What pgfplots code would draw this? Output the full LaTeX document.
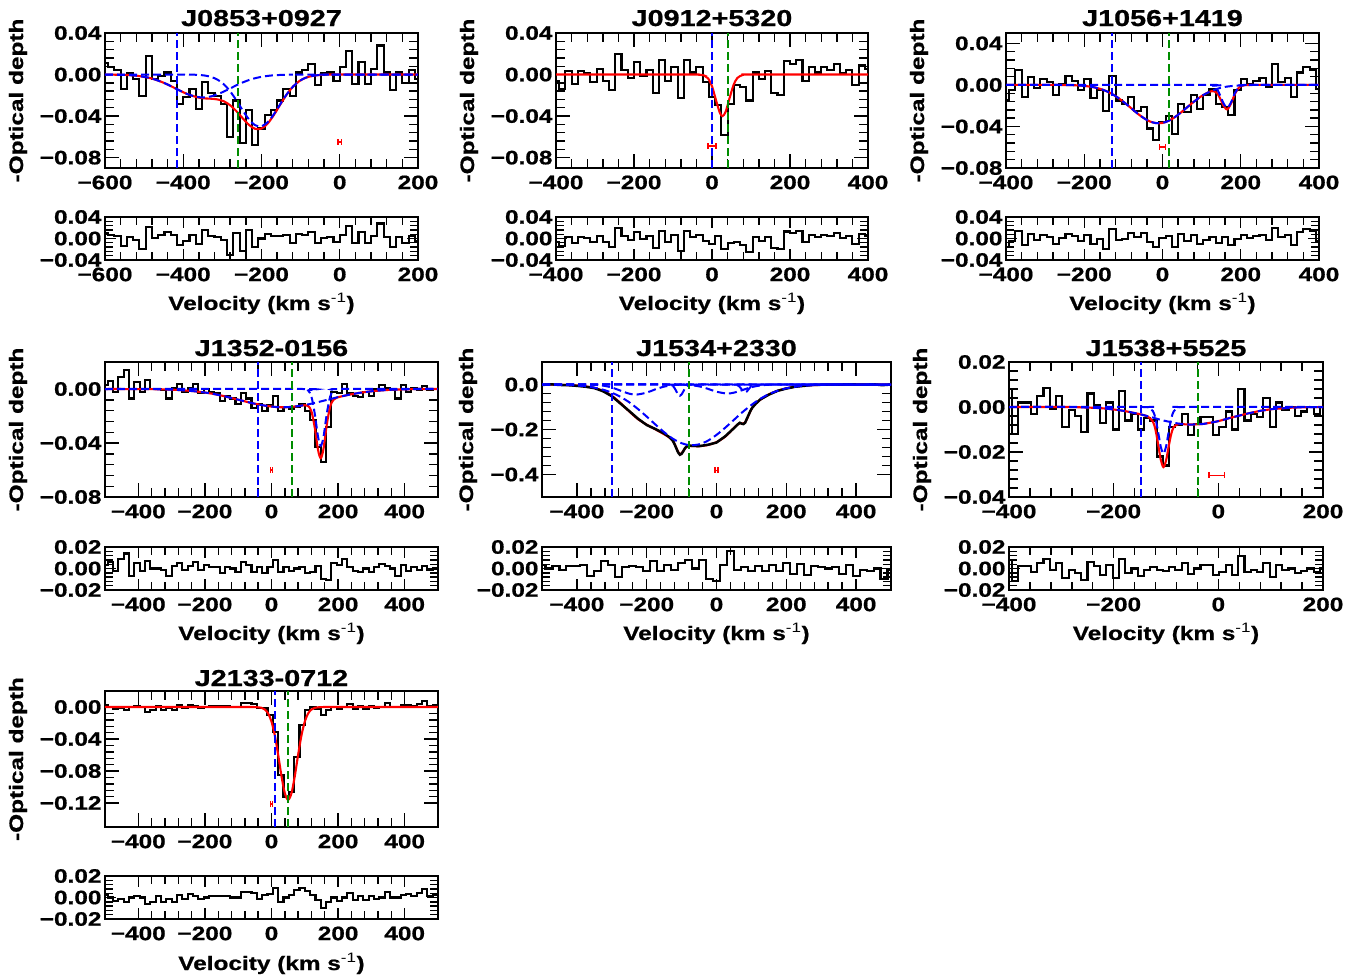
\documentclass[border=0pt]{standalone}
\usepackage{fontspec}
\setmainfont{Liberation Sans}[FakeStretch=1.25, BoldFeatures={FakeBold=0.8}]
\usepackage{pgfplots}
\pgfplotsset{compat=1.18}

\definecolor{vgreen}{RGB}{0,140,0}
\newcommand{\tfont}{\bfseries\fontsize{19.5}{19.5}\selectfont}
\newcommand{\titlefont}{\bfseries\fontsize{23}{23}\selectfont}
\newcommand{\labfont}{\bfseries\fontsize{19.5}{19.5}\selectfont}
\newcommand{\vel}{Velocity (km s{\mdseries\textsuperscript{-1}})}

\pgfplotsset{
  panel/.style={
    scale only axis, anchor=north west,
    axis line style={line width=1.7pt},
    every tick/.style={black, line width=1.4pt},
    major tick length=14pt, minor tick length=9pt,
    tick align=inside, scaled ticks=false,
    ticklabel style={font=\tfont},
    xticklabel style={yshift=-4pt},
    minor x tick num=4, minor y tick num=4,
  },
  res/.style={major tick length=11pt, minor tick length=8pt},
  dat/.style={black, line width=2.1pt, const plot mark mid, mark=none},
  fit/.style={red, line width=2.1pt, smooth, mark=none},
  comp/.style={blue, line width=2pt, dash pattern=on 8pt off 4pt, smooth, mark=none},
  vb/.style={blue, line width=2pt, dash pattern=on 8pt off 4pt, mark=none},
  vg/.style={vgreen, line width=2pt, dash pattern=on 8pt off 4pt, mark=none},
  eb/.style={red, line width=1.5pt, mark=|, mark size=3pt, mark options={solid, red, line width=1.5pt}},
}

\begin{document}
\begin{tikzpicture}
\useasboundingbox (0pt,0pt) rectangle (1369pt,-980pt);

% ---------------- J0853+0927 ----------------
\begin{axis}[panel, at={(105pt,-33pt)}, width=313pt, height=135pt,
  xmin=-600, xmax=200, ymin=-0.09, ymax=0.04,
  xtick={-600,-400,-200,0,200}, xticklabels={−600,−400,−200,0,200},
  ytick={0.04,0,-0.04,-0.08}, yticklabels={0.04,0.00,−0.04,−0.08}]
\addplot[dat] coordinates {(-600,0.011) (-584,0.007) (-568,0.004) (-552,-0.014) (-536,0.001) (-520,-0.004) (-504,-0.021) (-488,0.018) (-472,-0.004) (-456,-0.001) (-440,0.002) (-424,-0.006) (-408,-0.028) (-392,-0.022) (-376,-0.014) (-360,-0.033) (-344,-0.007) (-328,-0.018) (-312,-0.021) (-296,-0.028) (-280,-0.060) (-264,-0.025) (-248,-0.066) (-232,-0.034) (-216,-0.068) (-200,-0.052) (-184,-0.039) (-168,-0.034) (-152,-0.025) (-136,-0.014) (-120,-0.021) (-104,0.002) (-88,0.004) (-72,0.010) (-56,-0.010) (-40,0.001) (-24,0.002) (-8,-0.006) (8,0.007) (24,0.023) (40,-0.009) (56,0.012) (72,-0.009) (88,0.005) (104,0.028) (120,0.002) (136,-0.015) (152,0.002) (168,-0.008) (184,0.004) (200,-0.004)};
\addplot[fit] coordinates {(-600,0) (-584,-0.0001) (-568,-0.0002) (-552,-0.0003) (-536,-0.0006) (-520,-0.0011) (-504,-0.002) (-488,-0.0031) (-472,-0.0048) (-456,-0.007) (-440,-0.0096) (-424,-0.0126) (-408,-0.0156) (-392,-0.0184) (-376,-0.0206) (-360,-0.0222) (-344,-0.023) (-328,-0.0233) (-312,-0.024) (-296,-0.0258) (-280,-0.0296) (-264,-0.0353) (-248,-0.0421) (-232,-0.0485) (-216,-0.0523) (-200,-0.052) (-184,-0.0471) (-168,-0.0387) (-152,-0.0289) (-136,-0.0195) (-120,-0.0119) (-104,-0.0065) (-88,-0.0032) (-72,-0.0015) (-56,-0.0006) (-40,-0.0002) (-24,0) (200,0)};
\addplot[comp] coordinates {(-600,0) (-584,-0.0001) (-568,-0.0002) (-552,-0.0003) (-536,-0.0006) (-520,-0.0011) (-504,-0.002) (-488,-0.0031) (-472,-0.0048) (-456,-0.007) (-440,-0.0096) (-424,-0.0126) (-408,-0.0156) (-392,-0.0184) (-376,-0.0205) (-360,-0.0218) (-344,-0.022) (-328,-0.0209) (-312,-0.019) (-296,-0.0163) (-280,-0.0134) (-264,-0.0103) (-248,-0.0076) (-232,-0.0053) (-216,-0.0035) (-200,-0.0022) (-184,-0.0013) (-168,-0.0007) (-152,-0.0004) (-136,-0.0002) (-120,-0.0001) (-104,0) (200,0)};
\addplot[comp] coordinates {(-600,0) (-440,0) (-392,0) (-376,-0.0001) (-360,-0.0004) (-344,-0.001) (-328,-0.0024) (-312,-0.005) (-296,-0.0095) (-280,-0.0162) (-264,-0.025) (-248,-0.0345) (-232,-0.0432) (-216,-0.0488) (-200,-0.0498) (-184,-0.0458) (-168,-0.038) (-152,-0.0285) (-136,-0.0193) (-120,-0.0118) (-104,-0.0065) (-88,-0.0032) (-72,-0.0015) (-56,-0.0006) (-40,-0.0002) (-24,0) (200,0)};
\addplot[vb] coordinates {(-415,-0.09) (-415,0.04)};
\addplot[vg] coordinates {(-260,-0.09) (-260,0.04)};
\addplot[eb] coordinates {(-4,-0.065) (4,-0.065)};
\end{axis}
\begin{axis}[panel, res, at={(105pt,-217pt)}, width=313pt, height=43pt,
  xmin=-600, xmax=200, ymin=-0.04, ymax=0.04,
  xtick={-600,-400,-200,0,200}, xticklabels={−600,−400,−200,0,200},
  ytick={0.04,0,-0.04}, yticklabels={0.04,0.00,−0.04}]
\addplot[dat] coordinates {(-600,0.011) (-584,0.007) (-568,0.004) (-552,-0.014) (-536,0.002) (-520,-0.003) (-504,-0.019) (-488,0.021) (-472,0.001) (-456,0.006) (-440,0.012) (-424,0.007) (-408,-0.012) (-392,-0.004) (-376,0.007) (-360,-0.011) (-344,0.016) (-328,0.005) (-312,0.003) (-296,-0.002) (-280,-0.030) (-264,0.010) (-248,-0.024) (-232,0.015) (-216,-0.016) (-200,0.000) (-184,0.008) (-168,0.005) (-152,0.004) (-136,0.006) (-120,-0.009) (-104,0.009) (-88,0.007) (-72,0.012) (-56,-0.009) (-40,0.001) (-24,0.002) (-8,-0.006) (8,0.007) (24,0.023) (40,-0.009) (56,0.012) (72,-0.009) (88,0.005) (104,0.028) (120,0.002) (136,-0.015) (152,0.002) (168,-0.008) (184,0.004) (200,-0.004)};
\end{axis}

% ---------------- J0912+5320 ----------------
\begin{axis}[panel, at={(556pt,-33pt)}, width=312pt, height=135pt,
  xmin=-400, xmax=400, ymin=-0.09, ymax=0.04,
  xtick={-400,-200,0,200,400}, xticklabels={−400,−200,0,200,400},
  ytick={0.04,0,-0.04,-0.08}, yticklabels={0.04,0.00,−0.04,−0.08}]
\addplot[dat] coordinates {(-400,-0.006) (-384,-0.014) (-368,0.003) (-352,-0.009) (-336,0.003) (-320,0.001) (-304,-0.007) (-288,0.005) (-272,-0.006) (-256,-0.015) (-240,0.020) (-224,0.004) (-208,-0.003) (-192,0.012) (-176,-0.001) (-160,0.004) (-144,-0.018) (-128,0.014) (-112,-0.006) (-96,0.007) (-80,-0.023) (-64,0.014) (-48,0.002) (-32,0.007) (-16,-0.007) (0,-0.022) (16,-0.029) (32,-0.058) (48,-0.028) (64,-0.010) (80,-0.012) (96,-0.025) (112,0.002) (128,-0.004) (144,0.003) (160,-0.018) (176,-0.020) (192,0.013) (208,0.010) (224,0.014) (240,-0.006) (256,0.007) (272,0.002) (288,0.007) (304,0.004) (320,0.010) (336,0.001) (352,0.004) (368,-0.010) (384,0.009) (400,0.005)};
\addplot[fit] coordinates {(-400,0) (-60,0) (-40,0) (-20,-0.0009) (-10,-0.0037) (0,-0.0113) (10,-0.0243) (20,-0.0367) (27,-0.040) (35,-0.0358) (45,-0.0228) (55,-0.0103) (65,-0.0033) (80,-0.0003) (100,0) (400,0)};
\addplot[vb] coordinates {(0,-0.09) (0,0.04)};
\addplot[vg] coordinates {(42,-0.09) (42,0.04)};
\addplot[eb] coordinates {(-10,-0.069) (10,-0.069)};
\end{axis}
\begin{axis}[panel, res, at={(556pt,-217pt)}, width=312pt, height=43pt,
  xmin=-400, xmax=400, ymin=-0.04, ymax=0.04,
  xtick={-400,-200,0,200,400}, xticklabels={−400,−200,0,200,400},
  ytick={0.04,0,-0.04}, yticklabels={0.04,0.00,−0.04}]
\addplot[dat] coordinates {(-400,-0.006) (-384,-0.014) (-368,0.003) (-352,-0.009) (-336,0.003) (-320,0.001) (-304,-0.007) (-288,0.005) (-272,-0.006) (-256,-0.015) (-240,0.020) (-224,0.004) (-208,-0.003) (-192,0.012) (-176,-0.001) (-160,0.004) (-144,-0.018) (-128,0.014) (-112,-0.006) (-96,0.007) (-80,-0.023) (-64,0.014) (-48,0.002) (-32,0.007) (-16,-0.005) (0,-0.011) (16,0.004) (32,-0.020) (48,-0.009) (64,-0.006) (80,-0.012) (96,-0.025) (112,0.002) (128,-0.004) (144,0.003) (160,-0.018) (176,-0.020) (192,0.013) (208,0.010) (224,0.014) (240,-0.006) (256,0.007) (272,0.002) (288,0.007) (304,0.004) (320,0.010) (336,0.001) (352,0.004) (368,-0.010) (384,0.009) (400,0.005)};
\end{axis}

% ---------------- J1056+1419 ----------------
\begin{axis}[panel, at={(1006pt,-33pt)}, width=313pt, height=135pt,
  xmin=-400, xmax=400, ymin=-0.08, ymax=0.05,
  xtick={-400,-200,0,200,400}, xticklabels={−400,−200,0,200,400},
  ytick={0.04,0,-0.04,-0.08}, yticklabels={0.04,0.00,−0.04,−0.08}]
\addplot[dat] coordinates {(-400,-0.015) (-384,-0.005) (-368,0.014) (-352,-0.012) (-336,0.008) (-320,-0.003) (-304,0.006) (-288,0.003) (-272,-0.010) (-256,0.001) (-240,0.009) (-224,0.004) (-208,-0.005) (-192,0.006) (-176,-0.013) (-160,-0.005) (-144,-0.025) (-128,0.009) (-112,-0.015) (-96,-0.018) (-80,-0.012) (-64,-0.025) (-48,-0.021) (-32,-0.042) (-16,-0.053) (0,-0.036) (16,-0.030) (32,-0.047) (48,-0.018) (64,-0.026) (80,-0.010) (96,-0.023) (112,-0.010) (128,-0.004) (144,-0.018) (160,-0.021) (176,-0.029) (192,-0.005) (208,0.006) (224,0.001) (240,0.004) (256,0.007) (272,-0.002) (288,0.020) (304,0.003) (320,0.007) (336,-0.012) (352,0.012) (368,0.017) (384,0.014) (400,-0.004)};
\addplot[fit] coordinates {(-400,0) (-272,0) (-256,-0.0001) (-240,-0.0002) (-224,-0.0003) (-208,-0.0007) (-192,-0.0013) (-176,-0.0022) (-160,-0.0037) (-144,-0.0059) (-128,-0.0089) (-112,-0.0128) (-96,-0.0174) (-80,-0.0224) (-64,-0.0275) (-48,-0.0319) (-32,-0.0352) (-16,-0.0368) (0,-0.0366) (16,-0.0345) (32,-0.0309) (48,-0.0263) (64,-0.0212) (80,-0.0162) (96,-0.0117) (112,-0.0081) (120,-0.0066) (130,-0.006) (140,-0.0082) (150,-0.0151) (155,-0.0193) (165,-0.0236) (175,-0.0181) (185,-0.0087) (195,-0.0027) (200,-0.0014) (210,-0.0003) (240,0) (400,0)};
\addplot[comp] coordinates {(-400,0) (-272,0) (-256,-0.0001) (-240,-0.0002) (-224,-0.0003) (-208,-0.0007) (-192,-0.0013) (-176,-0.0022) (-160,-0.0037) (-144,-0.0059) (-128,-0.0089) (-112,-0.0128) (-96,-0.0174) (-80,-0.0224) (-64,-0.0275) (-48,-0.0319) (-32,-0.0352) (-16,-0.0368) (0,-0.0366) (16,-0.0345) (32,-0.0309) (48,-0.0263) (64,-0.0212) (80,-0.0162) (96,-0.0117) (112,-0.0081) (128,-0.0053) (144,-0.0033) (160,-0.0019) (176,-0.0011) (192,-0.0006) (208,-0.0003) (240,0) (400,0)};
\addplot[comp] coordinates {(-400,0) (115,0) (130,-0.001) (140,-0.0045) (150,-0.0124) (155,-0.017) (165,-0.022) (175,-0.017) (185,-0.0079) (195,-0.0022) (200,-0.001) (215,0) (400,0)};
\addplot[vb] coordinates {(-128,-0.08) (-128,0.05)};
\addplot[vg] coordinates {(16,-0.08) (16,0.05)};
\addplot[eb] coordinates {(-8,-0.060) (8,-0.060)};
\end{axis}
\begin{axis}[panel, res, at={(1006pt,-217pt)}, width=313pt, height=43pt,
  xmin=-400, xmax=400, ymin=-0.04, ymax=0.04,
  xtick={-400,-200,0,200,400}, xticklabels={−400,−200,0,200,400},
  ytick={0.04,0,-0.04}, yticklabels={0.04,0.00,−0.04}]
\addplot[dat] coordinates {(-400,-0.015) (-384,-0.005) (-368,0.014) (-352,-0.012) (-336,0.008) (-320,-0.003) (-304,0.006) (-288,0.003) (-272,-0.010) (-256,0.001) (-240,0.009) (-224,0.004) (-208,-0.004) (-192,0.007) (-176,-0.011) (-160,-0.001) (-144,-0.019) (-128,0.018) (-112,-0.002) (-96,-0.001) (-80,0.010) (-64,0.003) (-48,0.011) (-32,-0.007) (-16,-0.016) (0,0.001) (16,0.005) (32,-0.016) (48,0.008) (64,-0.005) (80,0.006) (96,-0.011) (112,-0.002) (128,0.002) (144,-0.008) (160,0.002) (176,-0.012) (192,-0.001) (208,0.007) (224,0.001) (240,0.004) (256,0.007) (272,-0.002) (288,0.020) (304,0.003) (320,0.007) (336,-0.012) (352,0.012) (368,0.017) (384,0.014) (400,-0.004)};
\end{axis}

% ---------------- J1352-0156 ----------------
\begin{axis}[panel, at={(105pt,-362pt)}, width=333pt, height=135pt,
  xmin=-500, xmax=500, ymin=-0.08, ymax=0.02,
  xtick={-400,-200,0,200,400}, xticklabels={−400,−200,0,200,400},
  ytick={0,-0.04,-0.08}, yticklabels={0.00,−0.04,−0.08}]
\addplot[dat] coordinates {(-500,0.003) (-484,0.006) (-468,-0.002) (-452,0.009) (-436,0.014) (-420,-0.007) (-404,0.005) (-388,-0.002) (-372,0.007) (-356,0.000) (-340,0.000) (-324,-0.001) (-308,-0.007) (-292,0.001) (-276,0.004) (-260,-0.002) (-244,0.001) (-228,0.004) (-212,-0.003) (-196,0.000) (-180,-0.002) (-164,-0.003) (-148,-0.009) (-132,-0.005) (-116,-0.007) (-100,-0.011) (-84,-0.003) (-68,-0.007) (-52,-0.014) (-36,-0.011) (-20,-0.016) (-4,-0.012) (12,-0.005) (28,-0.016) (44,-0.013) (60,-0.015) (76,-0.013) (92,-0.011) (108,-0.016) (124,-0.023) (140,-0.043) (156,-0.054) (172,-0.028) (188,-0.002) (204,-0.003) (220,0.004) (236,-0.003) (252,-0.005) (268,-0.006) (284,-0.002) (300,-0.005) (316,0.000) (332,0.003) (348,0.001) (364,-0.001) (380,-0.007) (396,0.003) (412,-0.002) (428,0.001) (444,-0.001) (460,0.002) (476,-0.001) (492,0.000) (500,0.000)};
\addplot[fit] coordinates {(-500,0) (-372,-0.0001) (-340,-0.0002) (-308,-0.0004) (-276,-0.0008) (-244,-0.0014) (-212,-0.0022) (-180,-0.0034) (-148,-0.005) (-116,-0.0069) (-84,-0.0089) (-52,-0.0108) (-20,-0.0123) (12,-0.0133) (44,-0.0135) (76,-0.0128) (100,-0.012) (110,-0.0125) (120,-0.0166) (130,-0.0287) (140,-0.0454) (148,-0.0512) (156,-0.0445) (166,-0.0265) (176,-0.0132) (186,-0.008) (196,-0.0064) (220,-0.0049) (236,-0.0041) (268,-0.0027) (300,-0.0017) (332,-0.001) (364,-0.0005) (396,-0.0003) (440,0) (500,0)};
\addplot[comp] coordinates {(-500,0) (-372,-0.0001) (-340,-0.0002) (-308,-0.0004) (-276,-0.0008) (-244,-0.0014) (-212,-0.0022) (-180,-0.0034) (-148,-0.005) (-116,-0.0069) (-84,-0.0089) (-52,-0.0108) (-20,-0.0123) (12,-0.0133) (44,-0.0135) (76,-0.0128) (108,-0.0115) (140,-0.0097) (172,-0.0077) (204,-0.0058) (236,-0.0041) (268,-0.0027) (300,-0.0017) (332,-0.001) (364,-0.0005) (396,-0.0003) (440,0) (500,0)};
\addplot[comp] coordinates {(-500,0) (95,0) (110,-0.0011) (120,-0.0057) (130,-0.0184) (140,-0.0357) (148,-0.042) (156,-0.0357) (166,-0.0184) (176,-0.0057) (186,-0.0011) (201,0) (500,0)};
\addplot[vb] coordinates {(-40,-0.08) (-40,0.02)};
\addplot[vg] coordinates {(63,-0.08) (63,0.02)};
\addplot[eb] coordinates {(-3,-0.060) (3,-0.060)};
\end{axis}
\begin{axis}[panel, res, at={(105pt,-547pt)}, width=333pt, height=43pt,
  xmin=-500, xmax=500, ymin=-0.02, ymax=0.02,
  xtick={-400,-200,0,200,400}, xticklabels={−400,−200,0,200,400},
  ytick={0.02,0,-0.02}, yticklabels={0.02,0.00,−0.02}]
\addplot[dat] coordinates {(-500,0.003) (-484,0.006) (-468,-0.002) (-452,0.009) (-436,0.014) (-420,-0.007) (-404,0.005) (-388,-0.002) (-372,0.007) (-356,0.000) (-340,0.000) (-324,-0.001) (-308,-0.007) (-292,0.002) (-276,0.005) (-260,-0.001) (-244,0.002) (-228,0.006) (-212,-0.001) (-196,0.003) (-180,0.001) (-164,0.001) (-148,-0.004) (-132,0.001) (-116,0.000) (-100,-0.003) (-84,0.006) (-68,0.003) (-52,-0.003) (-36,0.001) (-20,-0.004) (-4,0.001) (12,0.008) (28,-0.003) (44,0.001) (60,-0.002) (76,0.000) (92,0.001) (108,-0.004) (124,-0.003) (140,0.002) (156,-0.010) (172,-0.011) (188,0.005) (204,0.003) (220,0.009) (236,0.001) (252,-0.002) (268,-0.003) (284,0.000) (300,-0.003) (316,0.001) (332,0.004) (348,0.002) (364,0.000) (380,-0.007) (396,0.003) (412,-0.002) (428,0.001) (444,-0.001) (460,0.002) (476,-0.001) (492,0.000) (500,0.000)};
\end{axis}

% ---------------- J1534+2330 ----------------
\begin{axis}[panel, at={(542pt,-362pt)}, width=349pt, height=135pt,
  xmin=-500, xmax=500, ymin=-0.5, ymax=0.1,
  xtick={-400,-200,0,200,400}, xticklabels={−400,−200,0,200,400},
  ytick={0,-0.2,-0.4}, yticklabels={0.0,−0.2,−0.4}]
\addplot[fit] coordinates {(-500,-0.0002) (-475,-0.0005) (-450,-0.0012) (-425,-0.0023) (-400,-0.0044) (-375,-0.0083) (-350,-0.0153) (-325,-0.028) (-300,-0.0499) (-275,-0.0823) (-250,-0.1198) (-225,-0.1539) (-200,-0.1785) (-175,-0.1993) (-150,-0.2213) (-135,-0.2355) (-125,-0.2508) (-120,-0.2642) (-115,-0.282) (-110,-0.2994) (-105,-0.309) (-100,-0.306) (-95,-0.295) (-90,-0.2836) (-85,-0.2763) (-75,-0.2733) (-50,-0.2742) (-25,-0.269) (0,-0.256) (25,-0.2318) (50,-0.1932) (62,-0.1756) (67,-0.1727) (72,-0.1731) (77,-0.1734) (82,-0.1683) (87,-0.1551) (92,-0.1367) (97,-0.1186) (102,-0.1042) (112,-0.0853) (125,-0.0683) (150,-0.0441) (175,-0.0282) (200,-0.017) (225,-0.01) (250,-0.0056) (275,-0.003) (300,-0.0015) (325,-0.0007) (350,-0.0003) (400,0) (500,0)};
\addplot[black, line width=2.5pt, mark=none] coordinates {(-500,-0.002) (-475,0.001) (-450,-0.002) (-425,-0.003) (-400,-0.006) (-375,-0.010) (-350,-0.016) (-325,-0.030) (-300,-0.052) (-275,-0.085) (-250,-0.118) (-225,-0.152) (-200,-0.180) (-175,-0.198) (-150,-0.218) (-135,-0.234) (-125,-0.250) (-120,-0.266) (-115,-0.284) (-110,-0.302) (-105,-0.312) (-100,-0.308) (-95,-0.296) (-90,-0.282) (-85,-0.275) (-75,-0.272) (-50,-0.274) (-25,-0.268) (0,-0.258) (25,-0.230) (50,-0.194) (62,-0.176) (67,-0.170) (72,-0.174) (77,-0.176) (82,-0.170) (87,-0.152) (92,-0.135) (97,-0.118) (102,-0.104) (112,-0.086) (125,-0.067) (150,-0.045) (175,-0.028) (200,-0.018) (225,-0.010) (250,-0.006) (275,-0.002) (300,-0.001) (325,0.000) (350,-0.001) (375,0.001) (400,0.000) (425,-0.001) (450,0.001) (475,-0.003) (500,0.000)};
\addplot[comp] coordinates {(-500,-0.0002) (-475,-0.0005) (-450,-0.0012) (-425,-0.0023) (-400,-0.0044) (-375,-0.008) (-350,-0.014) (-325,-0.0231) (-300,-0.0365) (-275,-0.055) (-250,-0.079) (-225,-0.109) (-200,-0.1425) (-175,-0.178) (-150,-0.212) (-125,-0.241) (-100,-0.261) (-75,-0.27) (-50,-0.266) (-25,-0.25) (0,-0.224) (25,-0.192) (50,-0.157) (75,-0.122) (100,-0.091) (125,-0.064) (150,-0.043) (175,-0.028) (200,-0.017) (225,-0.01) (250,-0.0056) (275,-0.003) (300,-0.0015) (325,-0.0007) (350,-0.0003) (400,0) (500,0)};
\addplot[comp] coordinates {(-500,0) (-400,0) (-375,-0.0003) (-350,-0.0013) (-325,-0.0049) (-300,-0.0134) (-275,-0.0273) (-250,-0.0408) (-230,-0.045) (-200,-0.036) (-175,-0.0213) (-150,-0.0093) (-125,-0.003) (-100,-0.0007) (-75,-0.0001) (-50,0) (500,0)};
\addplot[comp] coordinates {(-500,0) (-140,0) (-135,-0.0006) (-125,-0.0068) (-120,-0.0162) (-115,-0.0303) (-110,-0.0441) (-105,-0.05) (-100,-0.0441) (-95,-0.0303) (-90,-0.0162) (-85,-0.0068) (-75,-0.0006) (-70,0) (500,0)};
\addplot[comp] coordinates {(-500,0) (47,0) (52,-0.0004) (62,-0.0048) (67,-0.0114) (72,-0.0212) (77,-0.0309) (82,-0.035) (87,-0.0309) (92,-0.0212) (97,-0.0114) (102,-0.0048) (112,-0.0004) (117,0) (500,0)};
\addplot[comp] coordinates {(-500,0) (-125,0) (-100,-0.0006) (-75,-0.0026) (-50,-0.0082) (-25,-0.019) (0,-0.032) (30,-0.04) (50,-0.0362) (75,-0.0243) (100,-0.0119) (125,-0.0043) (150,-0.0011) (175,-0.0002) (200,0) (500,0)};
\addplot[vb] coordinates {(-300,-0.5) (-300,0.1)};
\addplot[vg] coordinates {(-79,-0.5) (-79,0.1)};
\addplot[eb] coordinates {(-4,-0.382) (4,-0.382)};
\end{axis}
\begin{axis}[panel, res, at={(542pt,-547pt)}, width=349pt, height=43pt,
  xmin=-500, xmax=500, ymin=-0.02, ymax=0.02,
  xtick={-400,-200,0,200,400}, xticklabels={−400,−200,0,200,400},
  ytick={0.02,0,-0.02}, yticklabels={0.02,0.00,−0.02}]
\addplot[dat] coordinates {(-500,0.003) (-480,0) (-460,0.002) (-440,-0.001) (-420,0.002) (-400,0.002) (-380,0.003) (-360,-0.007) (-340,-0.002) (-320,0.007) (-300,0.003) (-280,-0.008) (-260,0.001) (-240,0.002) (-220,0.001) (-200,-0.002) (-180,0.007) (-160,-0.002) (-140,0.003) (-120,-0.001) (-100,0.005) (-80,0.008) (-60,0) (-40,0.008) (-20,-0.010) (0,-0.012) (20,0.003) (40,0.016) (60,-0.001) (80,0.001) (100,-0.002) (120,0.002) (140,-0.002) (160,0.003) (180,-0.002) (200,0.005) (220,-0.005) (240,0.004) (260,-0.006) (280,0.002) (300,0.001) (320,0) (340,0.001) (360,-0.005) (380,0.003) (400,-0.007) (420,-0.001) (440,-0.002) (460,0) (480,-0.010) (500,-0.001)};
\end{axis}

% ---------------- J1538+5525 ----------------
\begin{axis}[panel, at={(1009pt,-362pt)}, width=314pt, height=135pt,
  xmin=-400, xmax=200, ymin=-0.04, ymax=0.02,
  xtick={-400,-200,0,200}, xticklabels={−400,−200,0,200},
  ytick={0.02,0,-0.02,-0.04}, yticklabels={0.02,0.00,−0.02,−0.04}]
\addplot[dat] coordinates {(-400,0.008) (-388,-0.012) (-376,0.002) (-364,0.002) (-352,-0.003) (-340,0.005) (-328,0.0086) (-316,-0.001) (-304,0.005) (-292,-0.009) (-280,-0.0015) (-268,-0.004) (-256,-0.011) (-244,0.006) (-232,0.001) (-220,-0.007) (-208,0.002) (-196,-0.010) (-184,0.007) (-172,-0.006) (-160,-0.003) (-148,-0.010) (-136,-0.005) (-124,-0.006) (-112,-0.022) (-100,-0.026) (-88,-0.009) (-76,-0.008) (-64,-0.003) (-52,-0.0126) (-40,-0.0074) (-28,-0.0044) (-16,-0.0044) (-4,-0.0126) (8,-0.009) (20,-0.002) (32,-0.010) (44,0.008) (56,-0.006) (68,-0.003) (80,-0.0044) (92,0.004) (104,-0.009) (116,0.002) (128,-0.0015) (140,0.000) (152,-0.004) (164,-0.002) (176,0.000) (188,-0.003) (200,0.000)};
\addplot[fit] coordinates {(-400,0) (-292,0) (-256,-0.0002) (-220,-0.0006) (-184,-0.0016) (-160,-0.0027) (-148,-0.0033) (-135,-0.0042) (-125,-0.0065) (-120,-0.0102) (-115,-0.0166) (-110,-0.0234) (-105,-0.0267) (-100,-0.0239) (-95,-0.0177) (-90,-0.012) (-85,-0.0088) (-75,-0.0075) (-64,-0.0077) (-52,-0.0078) (-40,-0.0077) (-28,-0.0075) (-16,-0.007) (-4,-0.0065) (8,-0.0058) (20,-0.005) (32,-0.0043) (44,-0.0036) (56,-0.0029) (68,-0.0023) (80,-0.0017) (92,-0.0013) (104,-0.0009) (116,-0.0007) (128,-0.0005) (140,-0.0003) (164,-0.0001) (200,0)};
\addplot[comp] coordinates {(-400,0) (-292,0) (-256,-0.0002) (-220,-0.0006) (-184,-0.0016) (-160,-0.0027) (-148,-0.0033) (-135,-0.0041) (-125,-0.0047) (-115,-0.0054) (-105,-0.006) (-95,-0.0065) (-85,-0.007) (-75,-0.0074) (-64,-0.0077) (-52,-0.0078) (-40,-0.0077) (-28,-0.0075) (-16,-0.007) (-4,-0.0065) (8,-0.0058) (20,-0.005) (32,-0.0043) (44,-0.0036) (56,-0.0029) (68,-0.0023) (80,-0.0017) (92,-0.0013) (104,-0.0009) (116,-0.0007) (128,-0.0005) (140,-0.0003) (164,-0.0001) (200,0)};
\addplot[comp] coordinates {(-400,0) (-140,0) (-135,-0.0001) (-125,-0.0018) (-120,-0.0052) (-115,-0.0112) (-110,-0.0177) (-105,-0.0207) (-100,-0.0177) (-95,-0.0112) (-90,-0.0052) (-85,-0.0018) (-75,-0.0001) (-70,0) (200,0)};
\addplot[vb] coordinates {(-148,-0.04) (-148,0.02)};
\addplot[vg] coordinates {(-38,-0.04) (-38,0.02)};
\addplot[eb] coordinates {(-18,-0.0304) (12,-0.0304)};
\end{axis}
\begin{axis}[panel, res, at={(1009pt,-547pt)}, width=314pt, height=43pt,
  xmin=-400, xmax=200, ymin=-0.02, ymax=0.02,
  xtick={-400,-200,0,200}, xticklabels={−400,−200,0,200},
  ytick={0.02,0,-0.02}, yticklabels={0.02,0.00,−0.02}]
\addplot[dat] coordinates {(-400,0.008) (-388,-0.012) (-376,0.002) (-364,0.002) (-352,-0.003) (-340,0.005) (-328,0.0086) (-316,-0.001) (-304,0.005) (-292,-0.009) (-280,-0.001) (-268,-0.004) (-256,-0.011) (-244,0.006) (-232,0.002) (-220,-0.006) (-208,0.003) (-196,-0.009) (-184,0.009) (-172,-0.004) (-160,0.000) (-148,-0.007) (-136,-0.001) (-124,0.001) (-112,-0.001) (-100,-0.002) (-88,0.001) (-76,-0.001) (-64,0.005) (-52,-0.005) (-40,0.000) (-28,0.003) (-16,0.003) (-4,-0.006) (8,-0.003) (20,0.003) (32,-0.006) (44,0.012) (56,-0.003) (68,-0.001) (80,-0.003) (92,0.005) (104,-0.008) (116,0.003) (128,-0.001) (140,0.000) (152,-0.004) (164,-0.002) (176,0.000) (188,-0.003) (200,0.000)};
\end{axis}

% ---------------- J2133-0712 ----------------
\begin{axis}[panel, at={(105pt,-691pt)}, width=333pt, height=136pt,
  xmin=-500, xmax=500, ymin=-0.15, ymax=0.02,
  xtick={-400,-200,0,200,400}, xticklabels={−400,−200,0,200,400},
  ytick={0,-0.04,-0.08,-0.12}, yticklabels={0.00,−0.04,−0.08,−0.12}]
\addplot[dat] coordinates {(-500,0.002) (-484,0) (-468,-0.003) (-452,-0.001) (-436,-0.004) (-420,0) (-404,0.001) (-388,0) (-372,-0.006) (-356,-0.004) (-340,0.001) (-324,-0.004) (-308,-0.001) (-292,-0.004) (-276,0.002) (-260,-0.001) (-244,0.003) (-228,0.001) (-212,-0.001) (-196,0) (-180,0.001) (-164,0.001) (-148,0.001) (-132,0.001) (-116,0) (-100,0) (-84,0.005) (-68,0.005) (-52,0.004) (-36,-0.001) (-20,-0.001) (-4,-0.010) (12,-0.031) (28,-0.085) (44,-0.113) (60,-0.106) (76,-0.063) (92,-0.023) (108,-0.004) (124,0) (140,-0.002) (156,-0.010) (172,-0.004) (188,0) (204,-0.003) (220,0) (236,0.004) (252,-0.002) (268,0.001) (284,-0.002) (300,0.001) (316,-0.001) (332,0) (348,0.005) (364,0) (380,0) (396,0.002) (412,0.003) (428,0.001) (444,0.004) (460,0.008) (476,0.001) (492,0.002) (500,0.002)};
\addplot[fit] coordinates {(-500,0) (-100,0) (-50,-0.0001) (-30,-0.001) (-20,-0.0031) (-10,-0.0081) (0,-0.0182) (10,-0.0355) (20,-0.0596) (30,-0.0863) (40,-0.1077) (50,-0.116) (60,-0.1077) (70,-0.0863) (80,-0.0596) (90,-0.0355) (100,-0.0182) (110,-0.0081) (120,-0.0031) (130,-0.001) (150,-0.0001) (200,0) (500,0)};
\addplot[vb] coordinates {(11,-0.15) (11,0.02)};
\addplot[vg] coordinates {(50,-0.15) (50,0.02)};
\addplot[eb] coordinates {(-3,-0.121) (3,-0.121)};
\end{axis}
\begin{axis}[panel, res, at={(105pt,-876pt)}, width=333pt, height=43pt,
  xmin=-500, xmax=500, ymin=-0.02, ymax=0.02,
  xtick={-400,-200,0,200,400}, xticklabels={−400,−200,0,200,400},
  ytick={0.02,0,-0.02}, yticklabels={0.02,0.00,−0.02}]
\addplot[dat] coordinates {(-500,0.002) (-484,0) (-468,-0.003) (-452,-0.001) (-436,-0.004) (-420,0) (-404,0.001) (-388,0) (-372,-0.006) (-356,-0.004) (-340,0.001) (-324,-0.004) (-308,-0.001) (-292,-0.004) (-276,0.002) (-260,-0.001) (-244,0.003) (-228,0.001) (-212,-0.001) (-196,0) (-180,0.001) (-164,0.001) (-148,0.001) (-132,0.001) (-116,0) (-100,0) (-84,0.005) (-68,0.005) (-52,0.004) (-36,-0.001) (-20,0.002) (-4,0.003) (12,0.009) (28,-0.004) (44,0.000) (60,0.002) (76,0.007) (92,0.009) (108,0.006) (124,0.002) (140,-0.002) (156,-0.010) (172,-0.004) (188,0) (204,-0.003) (220,0) (236,0.004) (252,-0.002) (268,0.001) (284,-0.002) (300,0.001) (316,-0.001) (332,0) (348,0.005) (364,0) (380,0) (396,0.002) (412,0.003) (428,0.001) (444,0.004) (460,0.008) (476,0.001) (492,0.002) (500,0.002)};
\end{axis}

% ---------------- titles and labels ----------------
\node[font=\titlefont, anchor=base] at (261.5pt,-26pt) {J0853+0927};
\node[font=\titlefont, anchor=base] at (712pt,-26pt) {J0912+5320};
\node[font=\titlefont, anchor=base] at (1162.5pt,-26pt) {J1056+1419};
\node[font=\titlefont, anchor=base] at (271.5pt,-356pt) {J1352-0156};
\node[font=\titlefont, anchor=base] at (716.5pt,-356pt) {J1534+2330};
\node[font=\titlefont, anchor=base] at (1166pt,-356pt) {J1538+5525};
\node[font=\titlefont, anchor=base] at (271.5pt,-686pt) {J2133-0712};

\node[font=\labfont, rotate=90] at (18pt,-100.5pt) {-Optical depth};
\node[font=\labfont, rotate=90] at (469pt,-100.5pt) {-Optical depth};
\node[font=\labfont, rotate=90] at (919pt,-100.5pt) {-Optical depth};
\node[font=\labfont, rotate=90] at (18pt,-429.5pt) {-Optical depth};
\node[font=\labfont, rotate=90] at (468pt,-429.5pt) {-Optical depth};
\node[font=\labfont, rotate=90] at (922pt,-429.5pt) {-Optical depth};
\node[font=\labfont, rotate=90] at (18pt,-759pt) {-Optical depth};

\node[font=\labfont, anchor=base] at (261.5pt,-310pt) {\vel};
\node[font=\labfont, anchor=base] at (712pt,-310pt) {\vel};
\node[font=\labfont, anchor=base] at (1162.5pt,-310pt) {\vel};
\node[font=\labfont, anchor=base] at (271.5pt,-640pt) {\vel};
\node[font=\labfont, anchor=base] at (716.5pt,-640pt) {\vel};
\node[font=\labfont, anchor=base] at (1166pt,-640pt) {\vel};
\node[font=\labfont, anchor=base] at (271.5pt,-970pt) {\vel};
\end{tikzpicture}
\end{document}
